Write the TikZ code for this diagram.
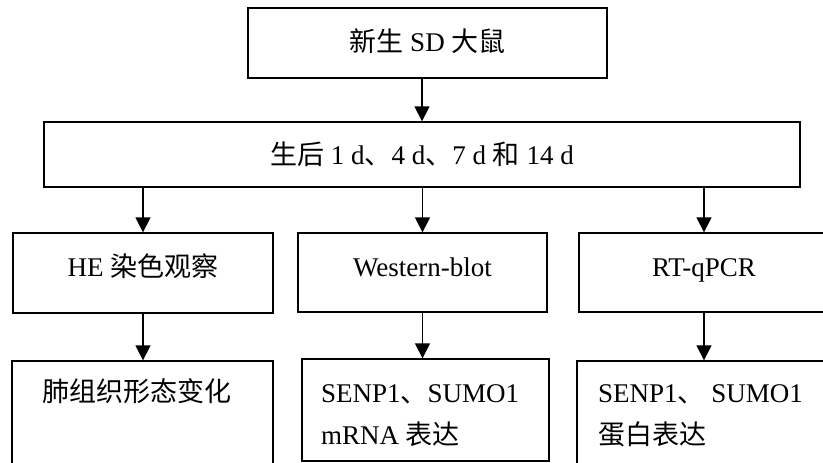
\documentclass[tikz,border=0pt]{standalone}
\usepackage{fontspec}
\setmainfont{Liberation Serif}
\newfontfamily\cjk{Noto Sans CJK SC}
\usetikzlibrary{arrows.meta}
\begin{document}
\begin{tikzpicture}[x=1pt,y=-1pt,
  box/.style={draw, line width=1.3pt, inner sep=0pt, fill=white},
  lbl/.style={inner sep=0pt, font=\fontsize{27}{42}\selectfont},
  one/.style={lbl, text height=20pt, text depth=6pt},
  arr/.style={line width=1.3pt, -{Triangle[length=15pt,width=15pt]}}]
\useasboundingbox (0,0) rectangle (823,463);
\clip (0,0) rectangle (823,463);
% boxes
\node[box, minimum width=359pt, minimum height=70pt] (top) at (427.5,43) {};
\node[box, minimum width=756pt, minimum height=65pt] (mid) at (422,154.5) {};
\node[box, minimum width=260pt, minimum height=80pt] (a3) at (143,273) {};
\node[box, minimum width=249pt, minimum height=79pt] (b3) at (422.5,272.5) {};
\node[box, minimum width=250pt, minimum height=79pt] (c3) at (704,272.5) {};
\node[box, minimum width=261pt, minimum height=110pt] (a4) at (142.5,416) {};
\node[box, minimum width=247pt, minimum height=102pt] (b4) at (425.5,410) {};
\node[box, minimum width=253pt, minimum height=110pt] (c4) at (703.5,416) {};
% texts
\node[one] (ttop) at (427.5,45) {{\cjk 新生} SD {\cjk 大鼠}};
\node[one] (tmid) at (422,157) {{\cjk 生后} 1 d{\cjk 、}4 d{\cjk 、}7 d {\cjk 和} 14 d};
\node[one] (ta3) at (143,269) {HE {\cjk 染色观察}};
\node[one] (tb3) at (422.5,269) {Western-blot};
\node[one] (tc3) at (704,269) {RT-qPCR};
\node[one, anchor=west] (ta4) at (42,394) {\cjk 肺组织形态变化};
\node[lbl, anchor=north west, align=left] (tb4) at (321,384) {SENP1{\cjk 、}SUMO1\\mRNA {\cjk 表达}};
\node[lbl, anchor=north west, align=left] (tc4) at (598,384) {SENP1{\cjk 、} SUMO1\\{\cjk 蛋白表达}};
% arrows
\draw[arr] (top.south -| mid.north) -- (mid.north);
\draw[arr] (mid.south -| a3.north) -- (a3.north);
\draw[arr] (mid.south -| b3.north) -- (b3.north);
\draw[arr] (mid.south -| c3.north) -- (c3.north);
\draw[arr] (a3.south) -- (a3.south |- a4.north);
\draw[arr] (b3.south) -- (b3.south |- b4.north);
\draw[arr] (c3.south) -- (c3.south |- c4.north);
\end{tikzpicture}
\end{document}
